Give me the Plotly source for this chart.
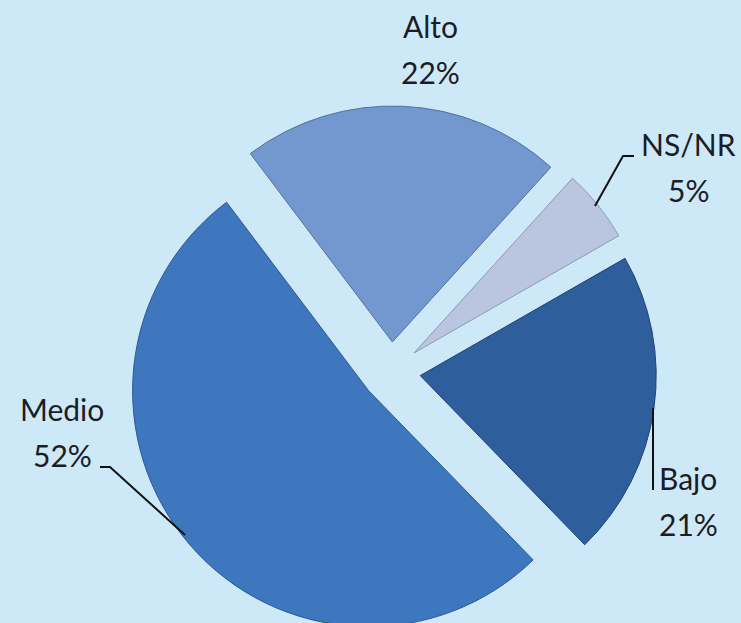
import plotly.graph_objects as go

labels = ['Alto', 'NS/NR', 'Bajo', 'Medio']
values = [22, 5, 21, 52]
colors = ['#7398cf', '#bac5df', '#2f5e9c', '#3f77bf']
edge_colors = ['#52719f', '#8d98b6', '#1f4473', '#2b5893']

W, H = 741, 650

def px(x, y):
    # pixel position -> paper coordinates
    return x / W, 1 - y / H

# label placement (pixels): x centre, name line y, percent line y
label_pos = {
    'Alto': (430, 26, 72),
    'NS/NR': (688, 144, 190),
    'Bajo': (688, 478, 524),
    'Medio': (62, 409, 455),
}
leaders = {
    'NS/NR': [(595, 206), (623, 156), (634, 156)],
    'Bajo': [(653, 408), (653, 490)],
    'Medio': [(185, 535), (110, 467), (100, 467)],
}

fig = go.Figure(go.Pie(
    labels=labels,
    values=values,
    sort=False,
    direction='clockwise',
    rotation=-37,
    pull=0.125,
    marker=dict(colors=colors, line=dict(color=edge_colors, width=1)),
    textinfo='none',
    hoverinfo='label+percent',
    domain=dict(x=[125.5 / W, 656.5 / W], y=[1 - 637 / H, 1 - 106 / H]),
    showlegend=False,
))

total = sum(values)
for lab, val in zip(labels, values):
    x, y1, y2 = label_pos[lab]
    for txt, yy in [(lab, y1), (f"{round(val / total * 100)}%", y2)]:
        ax, ay = px(x, yy)
        fig.add_annotation(x=ax, y=ay, xref='paper', yref='paper', text=txt,
                           showarrow=False, xanchor='center', yanchor='middle',
                           font=dict(family='Lato', size=30, color='#1c1c24'))

for lab, pts in leaders.items():
    path = 'M ' + ' L '.join(f"{px(a, b)[0]} {px(a, b)[1]}" for a, b in pts)
    fig.add_shape(type='path', path=path, xref='paper', yref='paper',
                  line=dict(color='#111111', width=2))

fig.update_layout(
    width=W,
    height=H,
    margin=dict(l=0, r=0, t=0, b=0),
    paper_bgcolor='#cde9f8',
    plot_bgcolor='#cde9f8',
)

# drop the default page margin so the figure sits at the window's corner
fig.write_html("out.html", config={'displayModeBar': False},
               post_script="document.body.style.margin='0';")
